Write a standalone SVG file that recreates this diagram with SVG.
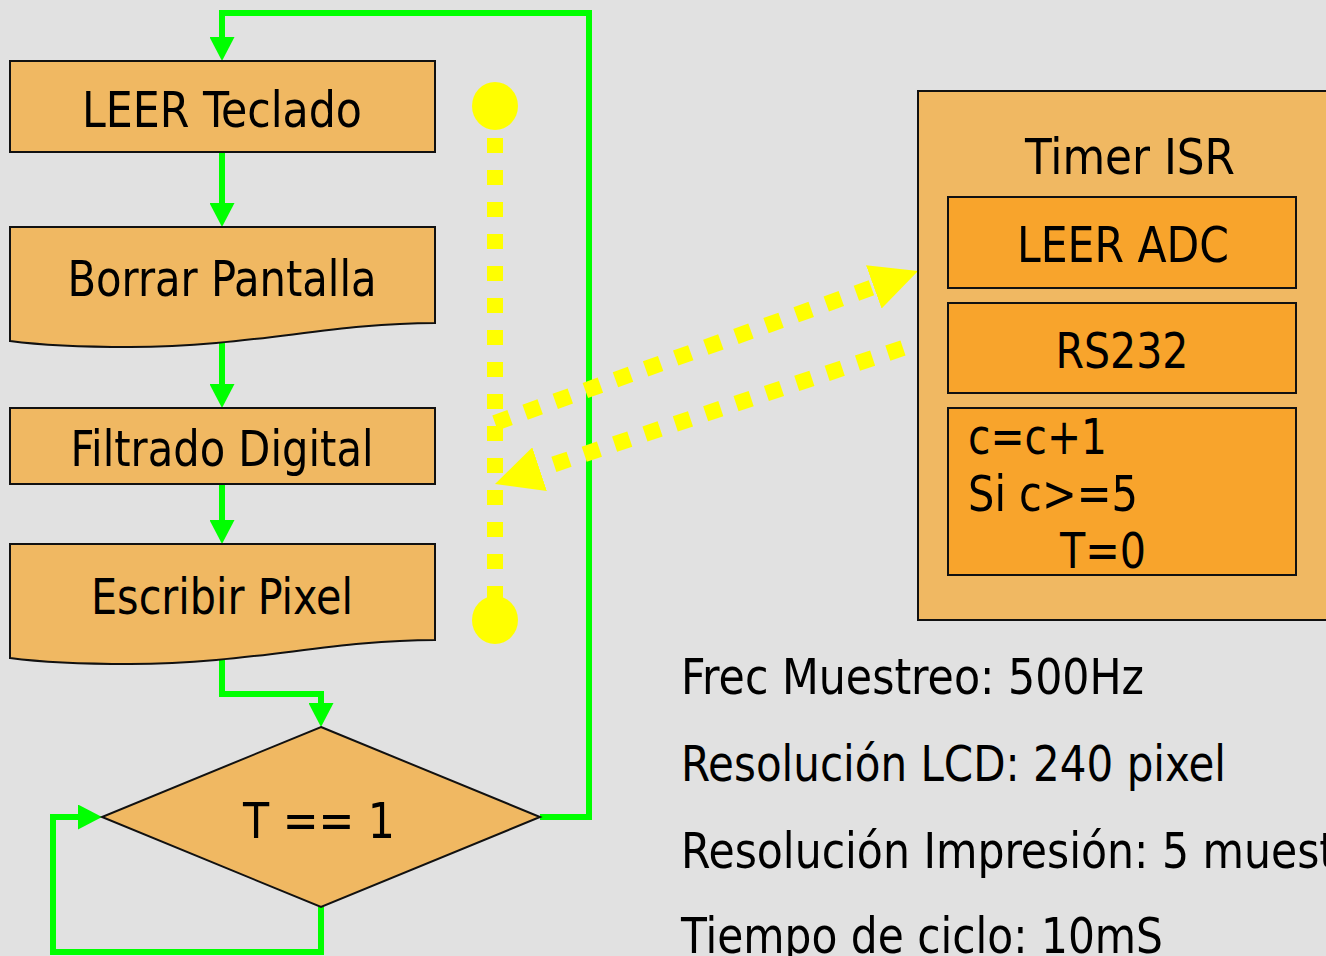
<svg xmlns="http://www.w3.org/2000/svg" width="1326" height="956" viewBox="0 0 1326 956">
<defs>
<style>
.bg{fill:#e1e1e1}
.box{fill:#f0b862;stroke:#111;stroke-width:2}
.ibox{fill:#f8a42c;stroke:#111;stroke-width:2}
.t{font-family:"DejaVu Sans","Liberation Sans",sans-serif;font-stretch:condensed;font-size:50px;fill:#000}
.n{font-family:"DejaVu Sans","Liberation Sans",sans-serif;font-stretch:condensed;font-size:49px;fill:#000}
.g{fill:none;stroke:#00ff00;stroke-width:6}
.y{fill:none;stroke:#ffff00;stroke-width:16;stroke-dasharray:16 16}
</style>
<marker id="ga" viewBox="0 0 24 25" refX="4" refY="12.5" markerWidth="24" markerHeight="25" markerUnits="userSpaceOnUse" orient="auto">
<path d="M0,0 L24,12.5 L0,25 Z" fill="#00ff00"/>
</marker>
<marker id="ya" viewBox="0 0 47 46" refX="0" refY="23" markerWidth="47" markerHeight="46" markerUnits="userSpaceOnUse" orient="auto">
<path d="M0,0 L47,23 L0,46 Z" fill="#ffff00"/>
</marker>
</defs>
<rect class="bg" x="0" y="0" width="1326" height="956"/>

<g id="connectors">
<path class="g" d="M540,817 H589 V13 H222 V41" marker-end="url(#ga)"/>
<path class="g" d="M222,152 V207" marker-end="url(#ga)"/>
<path class="g" d="M222,340 V388" marker-end="url(#ga)"/>
<path class="g" d="M222,484 V524" marker-end="url(#ga)"/>
<path class="g" d="M222,656 V694 H321 V707" marker-end="url(#ga)"/>
<path class="g" d="M321,907 V952 H53 V817 H82" marker-end="url(#ga)"/>
<ellipse cx="495" cy="106" rx="23" ry="24" fill="#ffff00"/>
<ellipse cx="495" cy="620" rx="23" ry="24" fill="#ffff00"/>
<path class="y" d="M495,138 V600" style="stroke-dasharray:15 17"/>
<path class="y" d="M495,423 L873.8,286.9" marker-end="url(#ya)"/>
<path class="y" d="M903,348 L539.6,469.1" marker-end="url(#ya)"/>
</g>

<g id="leer-teclado">
<rect class="box" x="10" y="61" width="425" height="91"/>
<text class="t" x="222" y="127" text-anchor="middle" textLength="280" lengthAdjust="spacingAndGlyphs">LEER Teclado</text>
</g>
<g id="borrar-pantalla">
<path class="box" d="M10,227 H435 V323 C330,323 250,347 130,347 C80,347 40,345 10,341 Z"/>
<text class="t" x="222" y="296" text-anchor="middle" textLength="309" lengthAdjust="spacingAndGlyphs">Borrar Pantalla</text>
</g>
<g id="filtrado-digital">
<rect class="box" x="10" y="408" width="425" height="76"/>
<text class="t" x="222" y="466" text-anchor="middle" textLength="303" lengthAdjust="spacingAndGlyphs">Filtrado Digital</text>
</g>
<g id="escribir-pixel">
<path class="box" d="M10,544 H435 V640 C330,640 250,664 130,664 C80,664 40,662 10,658 Z"/>
<text class="t" x="222" y="614" text-anchor="middle" textLength="262" lengthAdjust="spacingAndGlyphs">Escribir Pixel</text>
</g>
<g id="decision">
<path class="box" d="M321,727 L540,817 L321,907 L102,817 Z"/>
<text class="t" x="319" y="838" text-anchor="middle" textLength="152" lengthAdjust="spacingAndGlyphs">T == 1</text>
</g>

<g id="timer-isr">
<rect class="box" x="918" y="91" width="412" height="529"/>
<text class="t" x="1130" y="174" text-anchor="middle" textLength="210" lengthAdjust="spacingAndGlyphs">Timer ISR</text>
</g>
<g id="leer-adc">
<rect class="ibox" x="948" y="197" width="348" height="91"/>
<text class="t" x="1123" y="262" text-anchor="middle" textLength="212" lengthAdjust="spacingAndGlyphs">LEER ADC</text>
</g>
<g id="rs232">
<rect class="ibox" x="948" y="303" width="348" height="90"/>
<text class="t" x="1122" y="368" text-anchor="middle" textLength="133" lengthAdjust="spacingAndGlyphs">RS232</text>
</g>
<g id="contador">
<rect class="ibox" x="948" y="408" width="348" height="167"/>
<text class="t" x="968" y="454" textLength="139" lengthAdjust="spacingAndGlyphs">c=c+1</text>
<text class="t" x="968" y="511" textLength="170" lengthAdjust="spacingAndGlyphs">Si c&gt;=5</text>
<text class="t" x="1060" y="568" textLength="86" lengthAdjust="spacingAndGlyphs">T=0</text>
</g>

<g id="notas">
<text class="n" x="681" y="694" textLength="463" lengthAdjust="spacingAndGlyphs">Frec Muestreo: 500Hz</text>
<text class="n" x="681" y="781" textLength="545" lengthAdjust="spacingAndGlyphs">Resolución LCD: 240 pixel</text>
<text class="n" x="681" y="868" textLength="655" lengthAdjust="spacingAndGlyphs">Resolución Impresión: 5 muest</text>
<text class="n" x="681" y="953" textLength="482" lengthAdjust="spacingAndGlyphs">Tiempo de ciclo: 10mS</text>
</g>
</svg>
